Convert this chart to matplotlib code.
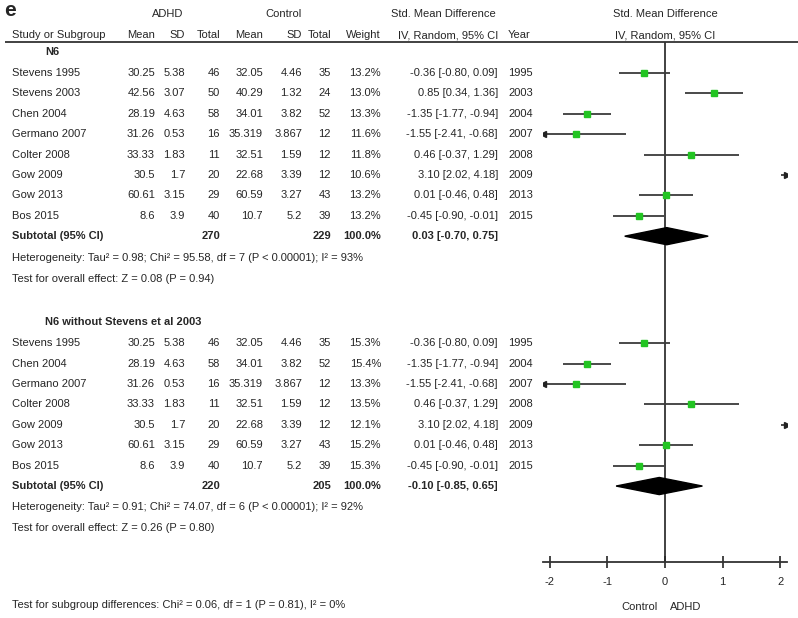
import numpy as np
import matplotlib.pyplot as plt
from matplotlib import font_manager
from matplotlib.patches import Polygon

# narrow Arial-like font if there is one, else Liberation Sans a bit smaller
installed = {f.name for f in font_manager.fontManager.ttflist}
if 'Liberation Sans Narrow' in installed:
    plt.rcParams['font.family'] = ['Liberation Sans Narrow', 'DejaVu Sans']
    FS = 9
else:
    plt.rcParams['font.family'] = ['Liberation Sans', 'DejaVu Sans']
    FS = 8

# Study data (N6)
studies = ["Stevens 1995", "Stevens 2003", "Chen 2004", "Germano 2007",
           "Colter 2008", "Gow 2009", "Gow 2013", "Bos 2015"]
adhd_mean = ["30.25", "42.56", "28.19", "31.26", "33.33", "30.5", "60.61", "8.6"]
adhd_sd = ["5.38", "3.07", "4.63", "0.53", "1.83", "1.7", "3.15", "3.9"]
adhd_n = [46, 50, 58, 16, 11, 20, 29, 40]
ctrl_mean = ["32.05", "40.29", "34.01", "35.319", "32.51", "22.68", "60.59", "10.7"]
ctrl_sd = ["4.46", "1.32", "3.82", "3.867", "1.59", "3.39", "3.27", "5.2"]
ctrl_n = [35, 24, 52, 12, 12, 12, 43, 39]
smd = [-0.36, 0.85, -1.35, -1.55, 0.46, 3.10, 0.01, -0.45]
ci_lo = [-0.80, 0.34, -1.77, -2.41, -0.37, 2.02, -0.46, -0.90]
ci_hi = [0.09, 1.36, -0.94, -0.68, 1.29, 4.18, 0.48, -0.01]
years = [1995, 2003, 2004, 2007, 2008, 2009, 2013, 2015]

# subgroup 1: all studies
g1_idx = [0, 1, 2, 3, 4, 5, 6, 7]
g1_weight = [13.2, 13.0, 13.3, 11.6, 11.8, 10.6, 13.2, 13.2]
g1_total = (270, 229)
g1_pooled = (0.03, -0.70, 0.75)
g1_het = "Heterogeneity: Tau² = 0.98; Chi² = 95.58, df = 7 (P < 0.00001); I² = 93%"
g1_eff = "Test for overall effect: Z = 0.08 (P = 0.94)"

# subgroup 2: without Stevens 2003
g2_idx = [0, 2, 3, 4, 5, 6, 7]
g2_weight = [15.3, 15.4, 13.3, 13.5, 12.1, 15.2, 15.3]
g2_total = (220, 205)
g2_pooled = (-0.10, -0.85, 0.65)
g2_het = "Heterogeneity: Tau² = 0.91; Chi² = 74.07, df = 6 (P < 0.00001); I² = 92%"
g2_eff = "Test for overall effect: Z = 0.26 (P = 0.80)"

subgroup_test = "Test for subgroup differences: Chi² = 0.06, df = 1 (P = 0.81), I² = 0%"

TXT = '#262626'
GREEN = '#22c422'
XMAX = 2.12

fig = plt.figure(figsize=(7.98, 6.18), dpi=100)
ax = fig.add_axes([0, 0, 1, 1])
ax.set_xlim(0, 798)
ax.set_ylim(26.72, -3.58)
ax.axis('off')

axf = fig.add_axes([543 / 798, 0, 244 / 798, 1], sharey=ax)
axf.patch.set_visible(False)
axf.set_xlim(-XMAX, XMAX)

# column right edges (pixels)
cols = [155, 185, 220, 263, 302, 331, 381]


def t(x, y, s, ha='left', bold=False, size=None):
    ax.text(x, y, s, ha=ha, va='center', fontsize=size or FS, color=TXT,
            fontweight='bold' if bold else 'normal')


# headers
t(4, -3.05, "e", bold=True, size=15)
t(168, -2.87, "ADHD", ha='center')
t(283, -2.87, "Control", ha='center')
t(443, -2.87, "Std. Mean Difference", ha='center')
t(665, -2.87, "Std. Mean Difference", ha='center')
t(12, -1.86, "Study or Subgroup")
for x, s in zip(cols, ["Mean", "SD", "Total", "Mean", "SD", "Total", "Weight"]):
    t(x, -1.86, s, ha='right')
t(498, -1.86, "IV, Random, 95% CI", ha='right')
t(508, -1.86, "Year")
t(665, -1.86, "IV, Random, 95% CI", ha='center')
ax.hlines(-1.52, 5, 798, color='#333333', lw=1.3)


def draw_group(top, title, idx, weight, totals, pooled, het, eff):
    t(45, top - 1.02, title, bold=True)
    rows = top + np.arange(len(idx))
    for r, i, w in zip(rows, idx, weight):
        t(12, r, studies[i])
        vals = [adhd_mean[i], adhd_sd[i], str(adhd_n[i]), ctrl_mean[i],
                ctrl_sd[i], str(ctrl_n[i]), f"{w:.1f}%"]
        for x, s in zip(cols, vals):
            t(x, r, s, ha='right')
        t(498, r, f"{smd[i]:.2f} [{ci_lo[i]:.2f}, {ci_hi[i]:.2f}]", ha='right')
        t(508, r, str(years[i]))
        # forest marks, clipped to the axis range with arrows
        lo = min(max(ci_lo[i], -XMAX), XMAX)
        hi = max(min(ci_hi[i], XMAX), -XMAX)
        axf.hlines(r, lo, hi, color='#3a3a3a', lw=1.3, zorder=2)
        if -XMAX < smd[i] < XMAX:
            axf.plot(smd[i], r, 's', color=GREEN, ms=3.8, mec=GREEN, zorder=3)
        if ci_lo[i] < -XMAX:
            axf.plot(-XMAX, r, '<', color='#222222', ms=4, zorder=3)
        if ci_hi[i] > XMAX:
            axf.plot(XMAX, r, '>', color='#222222', ms=4, zorder=3)
    sub = rows[-1] + 1
    t(12, sub, "Subtotal (95% CI)", bold=True)
    t(cols[2], sub, str(totals[0]), ha='right', bold=True)
    t(cols[5], sub, str(totals[1]), ha='right', bold=True)
    t(cols[6], sub, "100.0%", ha='right', bold=True)
    est, lo, hi = pooled
    t(498, sub, f"{est:.2f} [{lo:.2f}, {hi:.2f}]", ha='right', bold=True)
    h = 0.42
    axf.add_patch(Polygon([(lo, sub), (est, sub - h), (hi, sub), (est, sub + h)],
                          closed=True, color='black', zorder=4))
    t(12, sub + 1.05, het)
    t(12, sub + 2.08, eff)


draw_group(0, "N6", g1_idx, g1_weight, g1_total, g1_pooled, g1_het, g1_eff)
draw_group(13.25, "N6 without Stevens et al 2003", g2_idx, g2_weight,
           g2_total, g2_pooled, g2_het, g2_eff)

t(12, 26.08, subgroup_test)

# forest axis
axis_row = 23.97
axf.vlines(0, -1.52, axis_row, color='#333333', lw=1.3, zorder=1)
for s in ['left', 'right', 'top']:
    axf.spines[s].set_visible(False)
axf.spines['bottom'].set_position(('data', axis_row))
axf.spines['bottom'].set_color('#333333')
axf.spines['bottom'].set_linewidth(1.3)
axf.set_xticks([-2, -1, 0, 1, 2])
axf.set_xticklabels(["-2", "-1", "0", "1", "2"])
axf.tick_params(axis='x', direction='inout', length=8, width=1.2, pad=7,
                labelsize=FS, colors='#262626')
axf.tick_params(axis='y', left=False, labelleft=False)
t(658, 26.18, "Control", ha='right')
t(670, 26.18, "ADHD")

plt.savefig("out.png", dpi=100)
